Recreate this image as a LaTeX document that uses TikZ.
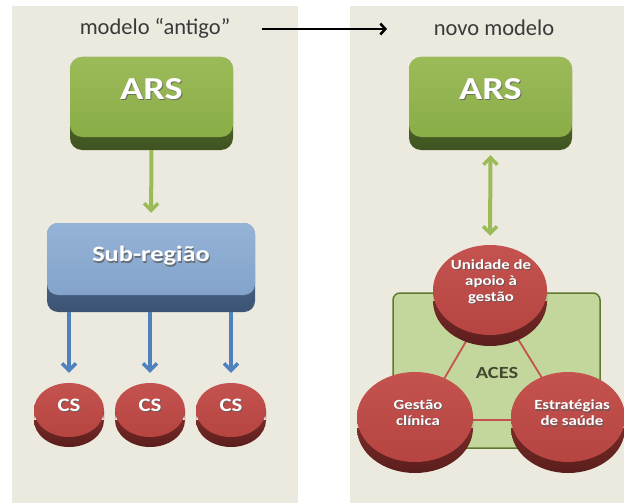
\documentclass[tikz,border=0pt]{standalone}
\usepackage{fontspec}
\setmainfont{Carlito}
\newfontfamily\widefont[FakeStretch=1.2]{Carlito}
\usetikzlibrary{arrows.meta,shapes.geometric}
\definecolor{panel}{HTML}{ECE9DF}
\definecolor{grface}{HTML}{9BBB59}
\definecolor{grfaceb}{HTML}{8AAD48}
\definecolor{grbandt}{HTML}{6B8C35}
\definecolor{grbandb}{HTML}{3F5220}
\definecolor{blface}{HTML}{95B3D7}
\definecolor{blfaceb}{HTML}{84A3CB}
\definecolor{blbandt}{HTML}{5A7AA3}
\definecolor{blbandb}{HTML}{3C5373}
\definecolor{bline}{HTML}{4F81BD}
\definecolor{rdface}{HTML}{C4524F}
\definecolor{rdfaceb}{HTML}{B64542}
\definecolor{rdsidet}{HTML}{953633}
\definecolor{rdsideb}{HTML}{5A1E1C}
\definecolor{acesfill}{HTML}{C3D69B}
\definecolor{acesdraw}{HTML}{5E7A2E}
\definecolor{titlecol}{HTML}{3A3A3A}
\definecolor{acestext}{HTML}{45492F}
\definecolor{shcol}{HTML}{5A5A5A}

\newcommand\shtext[4]{%
  \node[#1, text=shcol, opacity=0.75, xshift=1pt, yshift=-1.2pt] (#2s) at (#3) {#4};
  \node[#1, text=white] (#2) at (#3) {#4};}

\newcommand\mydisc[6]{% name, cx, cy, rx, ry, depth
  \shade[top color=rdsidet, bottom color=rdsideb]
    ({#2-#4},{#3}) rectangle ({#2+#4},{#3+#6})
    ({#2},{#3+#6}) ellipse [x radius=#4, y radius=#5];
  \node[ellipse, inner sep=0pt, top color=rdface, bottom color=rdfaceb,
        minimum width={2*#4pt}, minimum height={2*#5pt}] (#1) at (#2,#3) {};}

\begin{document}
\begin{tikzpicture}[x=1pt,y=-1pt,
  titletxt/.style={font=\fontsize{22.5}{26}\selectfont, text=titlecol, inner sep=0pt},
  arsbase/.style={rectangle, rounded corners=12pt, top color=grbandt, bottom color=grbandb,
      minimum width=163pt, minimum height=93pt, inner sep=0pt},
  arsface/.style={rectangle, rounded corners=12pt, top color=grface, bottom color=grfaceb,
      minimum width=163pt, minimum height=80pt, inner sep=0pt},
  subbase/.style={rectangle, rounded corners=11pt, top color=blbandt, bottom color=blbandb,
      minimum width=208pt, minimum height=89pt, inner sep=0pt},
  subface/.style={rectangle, rounded corners=11pt, top color=blface, bottom color=blfaceb,
      minimum width=208pt, minimum height=72pt, inner sep=0pt},
  bigtxt/.style={font=\widefont\bfseries\fontsize{32}{34}\selectfont, inner sep=0pt},
  subtxt/.style={font=\widefont\bfseries\fontsize{22}{24}\selectfont, inner sep=0pt},
  cstxt/.style={font=\widefont\bfseries\fontsize{19}{21}\selectfont, inner sep=0pt},
  disctxt/.style={font=\widefont\bfseries\fontsize{14}{16}\selectfont, align=center, inner sep=0pt},
  grarrow/.style={draw=grface, line width=4pt,
      -{Straight Barb[length=7pt, width=14pt, line width=3.5pt]}},
  grdouble/.style={draw=grface, line width=4pt,
      {Straight Barb[length=7pt, width=14pt, line width=3.5pt]}-{Straight Barb[length=7pt, width=14pt, line width=3.5pt]}},
  blarrow/.style={draw=bline, line width=4pt,
      -{Straight Barb[length=7pt, width=14pt, line width=3.5pt]}},
  blkarrow/.style={draw=black, line width=2.5pt,
      -{Straight Barb[length=5pt, width=11pt, line width=2.5pt]}},
  triline/.style={draw=rdface, line width=1.8pt}
]
\useasboundingbox (0,0) rectangle (624,503);
% panels
\fill[panel] (12,6) rectangle (298,503);
\fill[panel] (350,6) rectangle (624,503);

% titles
\node[titletxt] (tleft) at (155,28) {modelo “antigo”};
\node[titletxt] (tright) at (494,28) {novo modelo};
\coordinate (arrA) at (262,29);
\coordinate (arrB) at (387,29);
\draw[blkarrow] (arrA) -- (arrB);

% left ARS
\node[arsbase] (ars1base) at (151.5,103.5) {};
\node[arsface] (ars1) at (151.5,97) {};
\shtext{bigtxt}{ars1txt}{151.5,89}{ARS}

% Sub-regiao
\node[subbase] (subbase) at (151,267.5) {};
\node[subface] (sub) at (151,259) {};
\shtext{subtxt}{subtxt}{151,256}{Sub-região}

\draw[grarrow, shorten >=10pt] (ars1base.south) -- (subbase.north);

% CS discs
\mydisc{cs1}{69}{410}{35}{27}{10}
\mydisc{cs2}{150}{410}{35}{27}{10}
\mydisc{cs3}{231}{410}{35}{27}{10}
\shtext{cstxt}{cs1txt}{69,405}{CS}
\shtext{cstxt}{cs2txt}{150,405}{CS}
\shtext{cstxt}{cs3txt}{231,405}{CS}

\draw[blarrow, shorten >=10pt] (subbase.south -| cs1) -- (cs1.north);
\draw[blarrow, shorten >=10pt] (subbase.south -| cs2) -- (cs2.north);
\draw[blarrow, shorten >=10pt] (subbase.south -| cs3) -- (cs3.north);

% right ARS
\node[arsbase] (ars2base) at (490.5,103.5) {};
\node[arsface] (ars2) at (490.5,97) {};
\shtext{bigtxt}{ars2txt}{490.5,89}{ARS}

% ACES block
\node[rectangle, rounded corners=7pt, fill=acesfill, draw=acesdraw, line width=1.5pt,
      minimum width=207pt, minimum height=155pt] (aces) at (496.5,370.5) {};

\coordinate (vtop) at (492,297);
\coordinate (vleft) at (420,420);
\coordinate (vright) at (568,420);
\draw[triline] (vtop) -- (vleft) -- (vright) -- cycle;

\node[font=\widefont\bfseries\fontsize{17}{19}\selectfont, text=acestext, inner sep=0pt]
  (acestxt) at (497,373) {ACES};

\mydisc{dtop}{490}{290}{57}{45}{11}
\mydisc{dleft}{415}{417}{58}{45}{11}
\mydisc{dright}{568}{417}{57}{45}{11}

\draw[grdouble, shorten <=5pt, shorten >=9pt] (ars2base.south) -- (dtop.north);

\shtext{disctxt}{dtoptxt}{491,282}{Unidade de\\apoio à\\gestão}
\shtext{disctxt}{dlefttxt}{418,413}{Gestão\\clínica}
\shtext{disctxt}{drighttxt}{572,413}{Estratégias\\de saúde}
\end{tikzpicture}
\end{document}
